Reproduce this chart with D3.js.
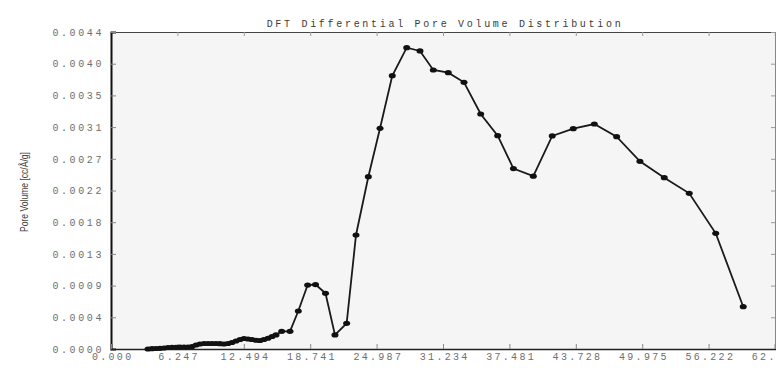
<!DOCTYPE html>
<html>
<head>
<meta charset="utf-8">
<script src="https://cdn.jsdelivr.net/npm/d3@7/dist/d3.min.js"></script>
<style>
  html, body { margin: 0; padding: 0; background: #ffffff; }
  svg { display: block; }
</style>
</head>
<body>
<svg id="chart" width="776" height="368"></svg>
<script>
// ---- data ----
const titleText = "DFT Differential Pore Volume Distribution";
const yTitle = "Pore Volume [cc/Å/g]";
const poreWidth = [
  3.48, 3.86, 4.23, 4.61, 4.99, 5.36, 5.74, 6.11, 6.49, 6.87, 7.24, 7.62, 8.00,
  8.37, 8.75, 9.13, 9.50, 9.88, 10.25, 10.63, 11.01, 11.38, 11.76, 12.14, 12.51,
  12.89, 13.26, 13.64, 14.02, 14.39, 14.77, 15.15, 15.52, 16.06, 16.84, 17.62,
  18.50, 19.24, 20.18, 21.07, 22.17, 23.05, 24.21, 25.31, 26.46, 27.82, 29.07,
  30.32, 31.73, 33.21, 34.78, 36.38, 37.86, 39.73, 41.51, 43.49, 45.47, 47.57,
  49.76, 52.05, 54.40, 56.89, 59.48
];
const poreVolume = [
  0.0000000, 0.0000042, 0.0000070, 0.0000098, 0.0000140, 0.0000210, 0.0000240,
  0.0000240, 0.0000250, 0.0000280, 0.0000280, 0.0000350, 0.0000560, 0.0000700,
  0.0000770, 0.0000770, 0.0000770, 0.0000770, 0.0000740, 0.0000700, 0.0000770,
  0.0000910, 0.0001120, 0.0001330, 0.0001470, 0.0001400, 0.0001330, 0.0001220,
  0.0001190, 0.0001330, 0.0001500, 0.0001750, 0.0001960, 0.0002470, 0.0002470,
  0.0005310, 0.0008940, 0.0009010, 0.0007780, 0.0001960, 0.0003590, 0.0015930,
  0.0024080, 0.0030840, 0.0038190, 0.0042110, 0.0041650, 0.0038990, 0.0038610,
  0.0037270, 0.0032840, 0.0029810, 0.0025220, 0.0024150, 0.0029770, 0.0030790,
  0.0031440, 0.0029670, 0.0026230, 0.0023940, 0.0021760, 0.0016170, 0.0005910
];
const xTickLabels = ["0.000", "6.247", "12.494", "18.741", "24.987", "31.234",
  "37.481", "43.728", "49.975", "56.222", "62.468"];
const yTickLabels = ["0.0000", "0.0004", "0.0009", "0.0013", "0.0018", "0.0022",
  "0.0027", "0.0031", "0.0035", "0.0040", "0.0044"];
const xMax = 62.468;
const yMax = 0.00443;

// ---- layout ----
const mLeft = 111, mRight = 775, mTop = 32, mBottom = 349;
const svg = d3.select("#chart");
const x = d3.scaleLinear().domain([0, xMax]).range([mLeft, mRight]);
const y = d3.scaleLinear().domain([0, yMax]).range([mBottom, mTop]);
const xTickVals = xTickLabels.map((d, i) => i * xMax / (xTickLabels.length - 1));
const yTickVals = yTickLabels.map((d, i) => i * yMax / (yTickLabels.length - 1));

const monoFont = "'Liberation Mono', 'DejaVu Sans Mono', monospace";

// plot background
svg.append("rect").attr("x", mLeft).attr("y", mTop)
  .attr("width", mRight - mLeft).attr("height", mBottom - mTop)
  .attr("fill", "#f5f5f5");

// top and right frame with inward ticks
svg.append("g").attr("transform", `translate(0,${mTop})`)
  .call(d3.axisTop(x).tickValues(xTickVals).tickSize(-4).tickFormat(""))
  .call(g => g.select(".domain").attr("stroke", "#444").attr("stroke-width", 1.2))
  .call(g => g.selectAll(".tick line").attr("stroke", "#999"));
svg.append("g").attr("transform", `translate(${mRight},0)`)
  .call(d3.axisRight(y).tickValues(yTickVals).tickSize(-4).tickFormat(""))
  .call(g => g.select(".domain").attr("stroke", "#888"))
  .call(g => g.selectAll(".tick line").attr("stroke", "#999"));

// left axis
svg.append("g").attr("transform", `translate(${mLeft},0)`)
  .call(d3.axisLeft(y).tickValues(yTickVals).tickSize(-5).tickPadding(7)
    .tickFormat((d, i) => yTickLabels[i]))
  .call(g => g.select(".domain").attr("stroke", "#111").attr("stroke-width", 2))
  .call(g => g.selectAll(".tick line").attr("stroke", "#888"))
  .call(g => g.selectAll("text").attr("fill", "#6e6e6e")
    .attr("font-family", monoFont).attr("font-size", 10)
    .attr("letter-spacing", 2.6));

// bottom axis
svg.append("g").attr("transform", `translate(0,${mBottom})`)
  .call(d3.axisBottom(x).tickValues(xTickVals).tickSize(-5).tickPadding(4)
    .tickFormat((d, i) => xTickLabels[i]))
  .call(g => g.select(".domain").attr("stroke", "#222").attr("stroke-width", 1.5))
  .call(g => g.selectAll(".tick line").attr("stroke", "#888"))
  .call(g => g.selectAll("text").attr("fill", "#6e6e6e")
    .attr("font-family", monoFont).attr("font-size", 10)
    .attr("letter-spacing", 2.3).attr("dx", 1.2));

// title
svg.append("text").attr("x", (mLeft + mRight) / 2 + 2).attr("y", 27)
  .attr("text-anchor", "middle").attr("fill", "#3a3a3a")
  .attr("font-family", monoFont).attr("font-size", 10)
  .attr("letter-spacing", 2.7).text(titleText);

// y title
svg.append("text")
  .attr("transform", `translate(28,192) rotate(-90)`)
  .attr("text-anchor", "middle").attr("fill", "#444")
  .attr("font-family", "'Liberation Sans Narrow', 'Liberation Sans', sans-serif")
  .attr("font-size", 10)
  .attr("textLength", 80).attr("lengthAdjust", "spacingAndGlyphs")
  .text(yTitle);

// data
const pts = poreWidth.map((d, i) => [d, poreVolume[i]]);
svg.append("path").datum(pts)
  .attr("fill", "none").attr("stroke", "#1a1a1a").attr("stroke-width", 1.8)
  .attr("d", d3.line().x(d => x(d[0])).y(d => y(d[1])));
svg.append("g").selectAll("ellipse").data(pts).join("ellipse")
  .attr("cx", d => x(d[0])).attr("cy", d => y(d[1]))
  .attr("rx", 3.5).attr("ry", 2.6).attr("fill", "#111");
</script>
</body>
</html>
